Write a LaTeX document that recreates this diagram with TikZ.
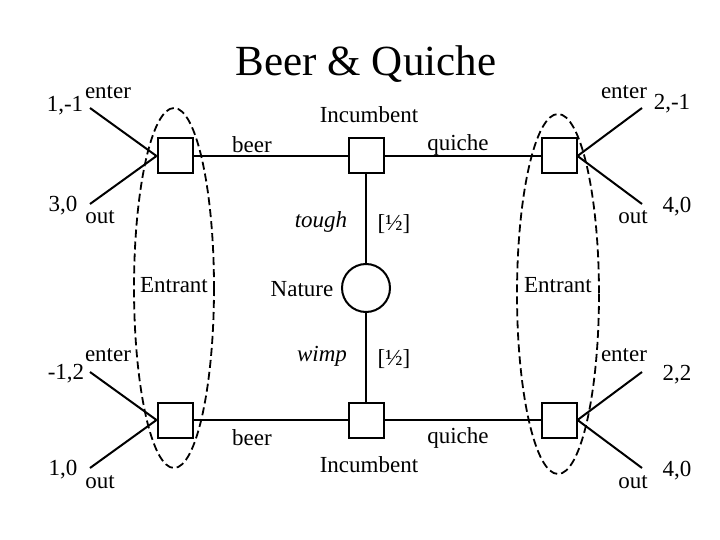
\documentclass[tikz,border=0pt]{standalone}
\usepackage{fontspec}
\setmainfont{Liberation Serif}
\begin{document}
\begin{tikzpicture}[x=1pt,y=-1pt,line width=2pt,
  sq/.style={draw,rectangle,minimum size=35pt,inner sep=0pt,fill=white},
  chance/.style={draw,circle,minimum size=48pt,inner sep=0pt,fill=white},
  lbl/.style={font=\fontsize{23}{26}\selectfont,inner sep=0pt},
  infoset/.style={dashed,dash pattern=on 8pt off 4pt,line width=1.8pt}]
\useasboundingbox (0,0) rectangle (720,540);
% information sets
\draw[infoset] (174,288) ellipse [x radius=40,y radius=180];
\draw[infoset] (558,294) ellipse [x radius=41,y radius=180];
% nodes
\node[sq] (tl) at (175,156) {};
\node[sq] (tm) at (366,156) {};
\node[sq] (tr) at (559,156) {};
\node[sq] (bl) at (175,420) {};
\node[sq] (bm) at (366,420) {};
\node[sq] (br) at (559,420) {};
\node[chance] (nat) at (366,288) {};
% terminal points
\coordinate (tle) at (90,108);
\coordinate (tlo) at (90,204);
\coordinate (tre) at (642,108);
\coordinate (tro) at (642,204);
\coordinate (ble) at (90,372);
\coordinate (blo) at (90,468);
\coordinate (bre) at (642,372);
\coordinate (bro) at (642,468);
% edges
\draw (tl) -- (tm) -- (tr);
\draw (bl) -- (bm) -- (br);
\draw (tm) -- (nat) -- (bm);
\draw (tle) -- (tl.west);
\draw (tlo) -- (tl.west);
\draw (tre) -- (tr.east);
\draw (tro) -- (tr.east);
\draw (ble) -- (bl.west);
\draw (blo) -- (bl.west);
\draw (bre) -- (br.east);
\draw (bro) -- (br.east);
% title
\node[inner sep=0pt,font=\fontsize{43}{48}\selectfont] (title) at (366,64) {Beer \& Quiche};
% labels
\node[lbl] (inctop) at (369,115) {Incumbent};
\node[lbl] (beertop) at (252,145) {beer};
\node[lbl] (quichetop) at (458,145) {quiche};
\node[lbl] (incbot) at (369,465) {Incumbent};
\node[lbl] (beerbot) at (252,438) {beer};
\node[lbl] (quichebot) at (458,438) {quiche};
\node[lbl] (natlbl) at (302,289) {Nature};
\node[lbl] (tough) at (321,222) {\itshape tough};
\node[lbl] (ptough) at (394,224) {[½]};
\node[lbl] (wimp) at (322,356) {\itshape wimp};
\node[lbl] (pwimp) at (394,359) {[½]};
\node[lbl] (entl) at (174,285) {Entrant};
\node[lbl] (entr) at (558,285) {Entrant};
% terminal labels
\node[lbl] (e1) at (108,92) {enter};
\node[lbl] (p1) at (65,106) {1,-1};
\node[lbl] (o1) at (100,217) {out};
\node[lbl] (p2) at (63,206) {3,0};
\node[lbl] (e2) at (624,92) {enter};
\node[lbl] (p3) at (672,104) {2,-1};
\node[lbl] (o2) at (633,217) {out};
\node[lbl] (p4) at (677,207) {4,0};
\node[lbl] (e3) at (108,355) {enter};
\node[lbl] (p5) at (66,374) {-1,2};
\node[lbl] (o3) at (100,482) {out};
\node[lbl] (p6) at (63,470) {1,0};
\node[lbl] (e4) at (624,355) {enter};
\node[lbl] (p7) at (677,375) {2,2};
\node[lbl] (o4) at (633,482) {out};
\node[lbl] (p8) at (677,471) {4,0};
\end{tikzpicture}
\end{document}
